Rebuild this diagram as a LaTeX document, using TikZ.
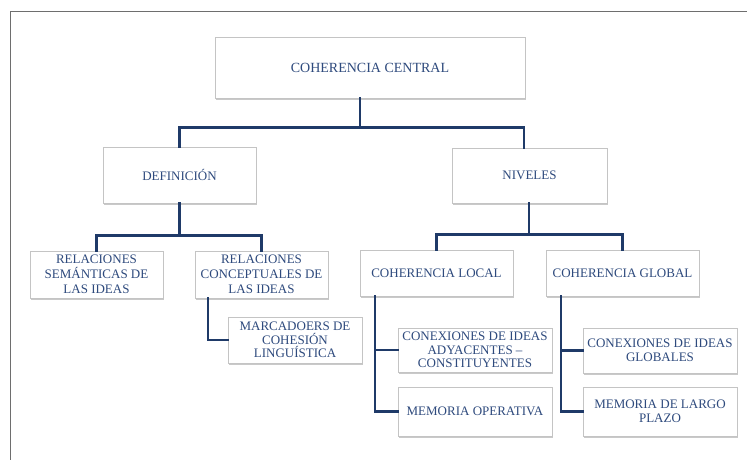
\documentclass[tikz,border=0pt]{standalone}
\usepackage{fontspec}
\setmainfont{Liberation Serif}
\usetikzlibrary{shadows,calc}
\definecolor{txtblue}{HTML}{2E4A7D}
\definecolor{connblue}{HTML}{1F3A68}
\definecolor{boxgray}{HTML}{C4C4C4}
\definecolor{framegray}{HTML}{6E6E6E}
\tikzset{
  box/.style={draw=boxgray, line width=0.7pt, fill=white, inner sep=0pt,
    align=center, text=txtblue,
    font=\fontsize{13}{14}\selectfont,
    drop shadow={shadow xshift=1.2pt, shadow yshift=-1.5pt, opacity=0.35, fill=black!60}},
  conn/.style={draw=connblue, line width=2.6pt, line cap=rect},
  frame/.style={draw=framegray, line width=1.8pt}
}
\begin{document}
\begin{tikzpicture}[x=1pt,y=-1pt]
\useasboundingbox (0,0) rectangle (747,460);
\fill[white] (0,0) rectangle (747,460);
\coordinate (fa) at (747,11.5);
\coordinate (fb) at (10.5,11.5);
\coordinate (fc) at (10.5,460);
\draw[frame] (fa) -- (fb) -- (fc);

\node[box, minimum width=310pt, minimum height=61pt, font=\fontsize{14}{15}\selectfont] (cc) at (370,67.5) {COHERENCIA CENTRAL};
\node[box, minimum width=153pt, minimum height=56pt] (def) at (179.5,175) {DEFINICIÓN};
\node[box, minimum width=155pt, minimum height=55pt] (niv) at (529.5,175.5) {NIVELES};
\node[box, minimum width=133pt, minimum height=47pt, font=\fontsize{13}{15}\selectfont] (rs) at (96.5,274.5) {RELACIONES\\SEMÁNTICAS DE\\LAS IDEAS};
\node[box, minimum width=133pt, minimum height=47pt, font=\fontsize{13}{15}\selectfont] (rc) at (261.5,274.5) {RELACIONES\\CONCEPTUALES DE\\LAS IDEAS};
\node[box, minimum width=153pt, minimum height=46pt] (cl) at (436.5,273) {COHERENCIA LOCAL};
\node[box, minimum width=153pt, minimum height=46pt] (cg) at (622.5,273) {COHERENCIA GLOBAL};
\node[box, minimum width=134pt, minimum height=46pt, font=\fontsize{13}{13.5}\selectfont] (mc) at (295,340) {MARCADOERS DE\\COHESIÓN\\LINGUÍSTICA};
\node[box, minimum width=154pt, minimum height=44pt, font=\fontsize{13}{13.3}\selectfont] (ca) at (475,350) {CONEXIONES DE IDEAS\\ADYACENTES –\\CONSTITUYENTES};
\node[box, minimum width=154pt, minimum height=49pt] (mo) at (475,411.5) {MEMORIA OPERATIVA};
\node[box, minimum width=154pt, minimum height=45pt, font=\fontsize{13}{13.5}\selectfont] (cgl) at (660,350.5) {CONEXIONES DE IDEAS\\GLOBALES};
\node[box, minimum width=154pt, minimum height=49pt, font=\fontsize{13}{14}\selectfont] (ml) at (660,411.5) {MEMORIA DE LARGO\\PLAZO};

% top connectors
\draw[conn] ([xshift=-10pt]cc.south) -- ++(0,29) coordinate (sp);
\coordinate (nivx) at ([xshift=-5.5pt]niv.north);
\draw[conn] (def.north) -- (def.north |- sp) -- (sp -| nivx) -- (nivx);

% definicion
\draw[conn] (def.south) -- ++(0,32) coordinate (d1);
\draw[conn] (rs.north) |- (d1) -| (rc.north);

% niveles
\draw[conn] ([xshift=-0.5pt]niv.south) -- ++(0,31) coordinate (n1);
\draw[conn] (cl.north) |- (n1) -| (cg.north);

% relaciones conceptuales
\draw[conn] ([xshift=-53.5pt]rc.south) |- (mc.west);

% coherencia local
\draw[conn] ([xshift=-61.5pt]cl.south) coordinate (cl1) |- (mo.west);
\draw[conn] (cl1 |- ca.west) -- (ca.west);

% coherencia global
\draw[conn] ([xshift=-61.5pt]cg.south) coordinate (cg1) |- (ml.west);
\draw[conn] (cg1 |- cgl.west) -- (cgl.west);
\end{tikzpicture}
\end{document}
